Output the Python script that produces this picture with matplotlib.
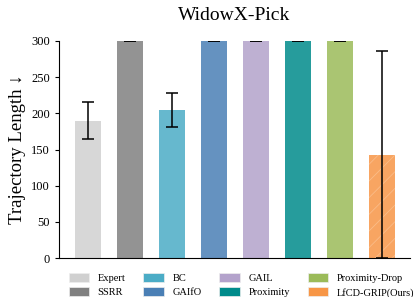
import matplotlib
matplotlib.use("Agg")
import matplotlib.pyplot as plt
from matplotlib.patches import Patch
import numpy as np

plt.rcParams["font.family"] = ["Liberation Serif", "DejaVu Serif"]
plt.rcParams["hatch.linewidth"] = 0.6

methods = ["Expert", "SSRR", "BC", "GAIfO", "GAIL", "Proximity",
           "Proximity-Drop", "LfCD-GRIP(Ours)"]
lengths = [190, 300, 204, 300, 300, 300, 300, 143]
errors = [25, 0, 23.5, 0, 0, 0, 0, 143]
colors = ["#d0d0d0", "#808080", "#4bacc6", "#4a7fb5", "#b3a2cb",
          "#008b8b", "#9bbb59", "#f79646"]

fig = plt.figure(figsize=(4.16, 2.97), dpi=100)
ax = fig.add_axes([0.142, 0.131, 0.843, 0.731])

x = np.arange(len(methods))
bars = ax.bar(x, lengths, 0.62, color=colors, alpha=0.85, linewidth=0)
bars[-1].set_hatch("//")
bars[-1].set_edgecolor("#fbc08f")
ax.errorbar(x, lengths, yerr=errors, fmt="none", ecolor="black",
            elinewidth=1.1, capsize=4.5, capthick=1.1)

ax.set_xlim(-0.69, 7.67)
ax.set_ylim(0, 300)
ax.set_yticks(np.arange(0, 301, 50))
ax.set_xticks([])
ax.tick_params(axis="y", labelsize=9, length=3)
ax.spines["top"].set_visible(False)
ax.spines["right"].set_visible(False)
ax.set_ylabel("Trajectory Length \u2193", fontsize=13.5)
ax.set_title("WidowX-Pick", fontsize=14, pad=15)

handles = [Patch(facecolor=c, edgecolor="#eeeeee", linewidth=0.5) for c in colors]
ax.legend(handles, methods, ncol=4, loc="upper center",
          bbox_to_anchor=(0.52, -0.025), frameon=False, fontsize=7.5,
          handlelength=2.0, handleheight=0.9, columnspacing=1.7,
          labelspacing=0.45, handletextpad=0.8)

fig.savefig("out.png", dpi=100)
